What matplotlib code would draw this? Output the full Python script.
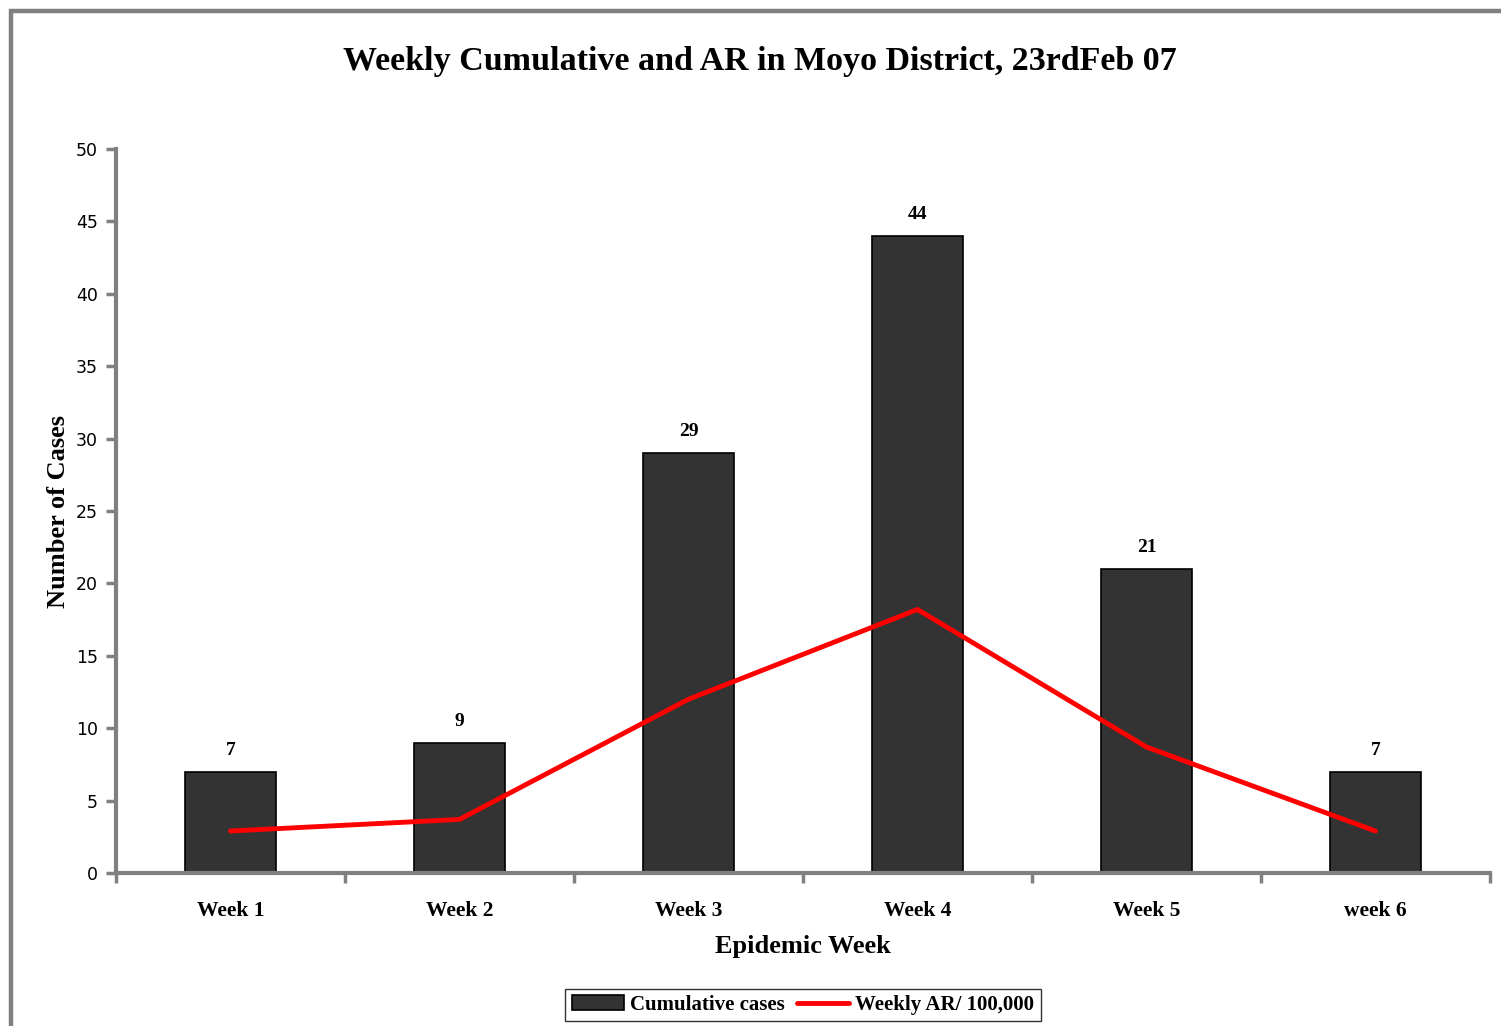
import matplotlib
matplotlib.use("Agg")
import matplotlib.pyplot as plt
import numpy as np
from matplotlib.patches import Rectangle

weeks = ["Week 1", "Week 2", "Week 3", "Week 4", "Week 5", "week 6"]
cumulative_cases = [7, 9, 29, 44, 21, 7]
weekly_ar = [2.9, 3.7, 12.0, 18.2, 8.7, 2.9]
y_ticks = [0, 5, 10, 15, 20, 25, 30, 35, 40, 45, 50]

W, H = 1501, 1026
fig = plt.figure(figsize=(W / 100, H / 100), dpi=100)
serif = "Liberation Serif"
sans = "DejaVu Sans"

# outer gray frame (cropped on right/bottom)
fig.add_artist(Rectangle((10.5 / W, -0.05), 1.2, 1 - 10.5 / H + 0.05, transform=fig.transFigure,
                         fill=False, edgecolor="#808080", linewidth=3.2))

ax = fig.add_axes([116 / W, (H - 873) / H, (1490 - 116) / W, (873 - 149) / H])
x = np.arange(len(weeks))
bars = ax.bar(x, cumulative_cases, width=0.4, color="#333333", edgecolor="black",
              linewidth=1.2, label="Cumulative cases", zorder=2)
line, = ax.plot(x, weekly_ar, color="#ff0000", linewidth=3.5, label="Weekly AR/ 100,000", zorder=3,
                solid_capstyle="round")

for xi, v in zip(x, cumulative_cases):
    ax.text(xi, v + 0.9, str(v), ha="center", va="bottom", fontsize=14, family=serif,
            fontweight="bold")

ax.set_xlim(-0.5, len(weeks) - 0.5)
ax.set_ylim(0, 50)
ax.set_yticks(y_ticks)
ax.set_yticklabels([str(t) for t in y_ticks], fontsize=12.5, family=sans)
ax.set_xticks(x)
ax.set_xticklabels(weeks, fontsize=15.5, family=serif, fontweight="bold")
ax.set_xticks(np.arange(-0.5, len(weeks)), minor=True)
ax.tick_params(axis="x", which="major", length=0, pad=20)
ax.tick_params(axis="x", which="minor", length=7, width=2.5, color="#808080", direction="out")
ax.tick_params(axis="y", length=7, width=2.5, color="#808080", direction="out", pad=6)

for s in ["top", "right"]:
    ax.spines[s].set_visible(False)
for s in ["left", "bottom"]:
    ax.spines[s].set_color("#808080")
    ax.spines[s].set_linewidth(3)

ax.set_xlabel("Epidemic Week", fontsize=19, family=serif, fontweight="bold", labelpad=10)
ax.set_ylabel("Number of Cases", fontsize=19, family=serif, fontweight="bold", labelpad=4)

fig.text(760 / W, 1 - 62 / H, "Weekly Cumulative and AR in Moyo District, 23rdFeb 07",
         ha="center", va="center", fontsize=24.5, family=serif, fontweight="bold")

leg = ax.legend([bars, line], ["Cumulative cases", "Weekly AR/ 100,000"],
                loc="center", bbox_to_anchor=(0.5, (873 - 1005) / (873 - 149)), ncol=2,
                frameon=True, fancybox=False, edgecolor="black",
                prop={"family": serif, "weight": "bold", "size": 15},
                handlelength=2.5, handletextpad=0.3, columnspacing=0.6, borderpad=0.3)
leg.get_frame().set_linewidth(1.0)

fig.savefig("out.png", dpi=100, facecolor="white")
